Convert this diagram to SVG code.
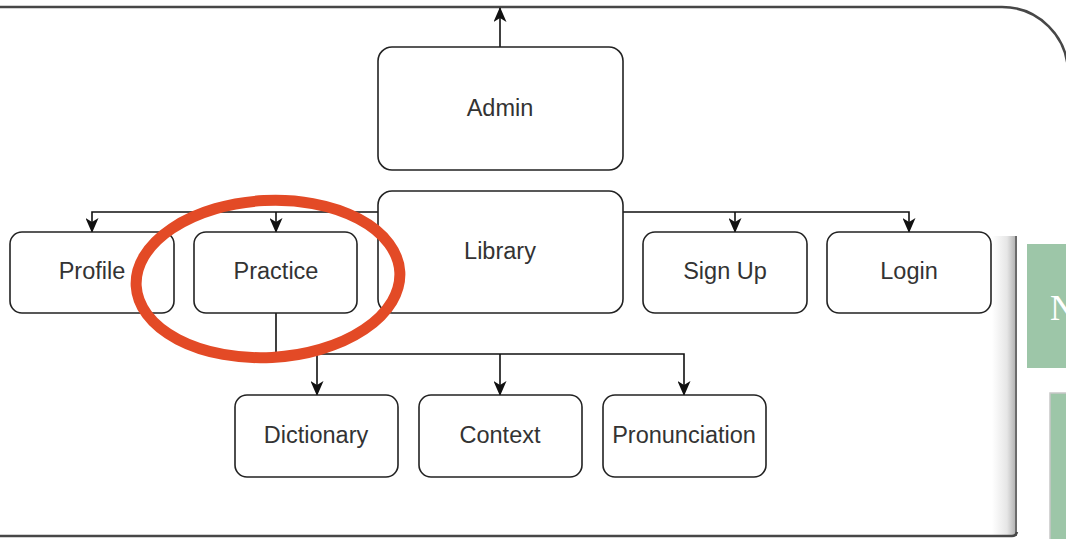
<svg xmlns="http://www.w3.org/2000/svg" width="1066" height="539" viewBox="0 0 1066 539">
  <defs>
    <style>
      .node rect { fill: #ffffff; stroke: #222222; stroke-width: 1.6; }
      .node text { font-family: "Liberation Sans", Arial, sans-serif; font-size: 23.5px; fill: #333333; text-anchor: middle; }
      .conn { fill: none; stroke: #111111; stroke-width: 1.6; }
      .frame { fill: none; stroke: #474747; stroke-width: 2.5; }
    </style>
    <marker id="arrow" viewBox="0 0 15 13" refX="14" refY="6.5" markerWidth="15" markerHeight="13" markerUnits="userSpaceOnUse" orient="auto">
      <path d="M0,0 L15,6.5 L0,13 L4,6.5 Z" fill="#111111"/>
    </marker>
    <linearGradient id="shade" x1="0" y1="0" x2="1" y2="0">
      <stop offset="0" stop-color="#ffffff"/>
      <stop offset="0.6" stop-color="#e6e6e6"/>
      <stop offset="1" stop-color="#a9a9a9"/>
    </linearGradient>
  </defs>

  <rect x="0" y="0" width="1066" height="539" fill="#ffffff"/>

  <!-- background frame -->
  <g id="frame">
    <path class="frame" d="M-5,7 H1002 A66,66 0 0 1 1068,73"/>
    <rect x="992" y="236" width="25" height="300" fill="url(#shade)"/>
    <line x1="1016" y1="236" x2="1016" y2="536" stroke="#555555" stroke-width="1.5"/>
    <path class="frame" d="M-5,536 H1012 Q1016,536 1017,532"/>
    <rect x="1027" y="244" width="45" height="124" fill="#9dc6a8"/>
    <text x="1050" y="320" font-family="'Liberation Serif', 'Times New Roman', serif" font-size="36" fill="#ffffff">N</text>
    <rect x="1050" y="393" width="20" height="150" fill="#9dc6a8" stroke="#c8c8c8" stroke-width="1.5"/>
  </g>

  <!-- connectors -->
  <g id="connectors">
    <path class="conn" d="M500,47 V8" marker-end="url(#arrow)"/>
    <path class="conn" d="M378,212 H92 V232" marker-end="url(#arrow)"/>
    <path class="conn" d="M276,212 V232" marker-end="url(#arrow)"/>
    <path class="conn" d="M623,212 H909 V232" marker-end="url(#arrow)"/>
    <path class="conn" d="M735,212 V232" marker-end="url(#arrow)"/>
    <path class="conn" d="M276,313 V354 H684 V395" marker-end="url(#arrow)"/>
    <path class="conn" d="M317,354 V395" marker-end="url(#arrow)"/>
    <path class="conn" d="M500,354 V395" marker-end="url(#arrow)"/>
  </g>

  <!-- nodes -->
  <g id="admin" class="node">
    <rect x="378" y="47" width="245" height="123" rx="14"/>
    <text x="500" y="116">Admin</text>
  </g>
  <g id="library" class="node">
    <rect x="378" y="191" width="245" height="122" rx="14"/>
    <text x="500" y="259">Library</text>
  </g>
  <g id="profile" class="node">
    <rect x="10" y="232" width="164" height="81" rx="12"/>
    <text x="92" y="279">Profile</text>
  </g>
  <g id="practice" class="node">
    <rect x="194" y="232" width="163" height="81" rx="12"/>
    <text x="276" y="279">Practice</text>
  </g>
  <g id="signup" class="node">
    <rect x="643" y="232" width="164" height="81" rx="12"/>
    <text x="725" y="279">Sign Up</text>
  </g>
  <g id="login" class="node">
    <rect x="827" y="232" width="164" height="81" rx="12"/>
    <text x="909" y="279">Login</text>
  </g>
  <g id="dictionary" class="node">
    <rect x="235" y="395" width="163" height="82" rx="12"/>
    <text x="316" y="443">Dictionary</text>
  </g>
  <g id="context" class="node">
    <rect x="419" y="395" width="163" height="82" rx="12"/>
    <text x="500" y="443">Context</text>
  </g>
  <g id="pronunciation" class="node">
    <rect x="603" y="395" width="163" height="82" rx="12"/>
    <text x="684" y="443">Pronunciation</text>
  </g>

  <!-- red highlight -->
  <g id="highlight">
    <ellipse cx="268" cy="279" rx="132" ry="78.5" transform="rotate(-3 268 279)" fill="none" stroke="#e34a26" stroke-width="11"/>
  </g>
</svg>
